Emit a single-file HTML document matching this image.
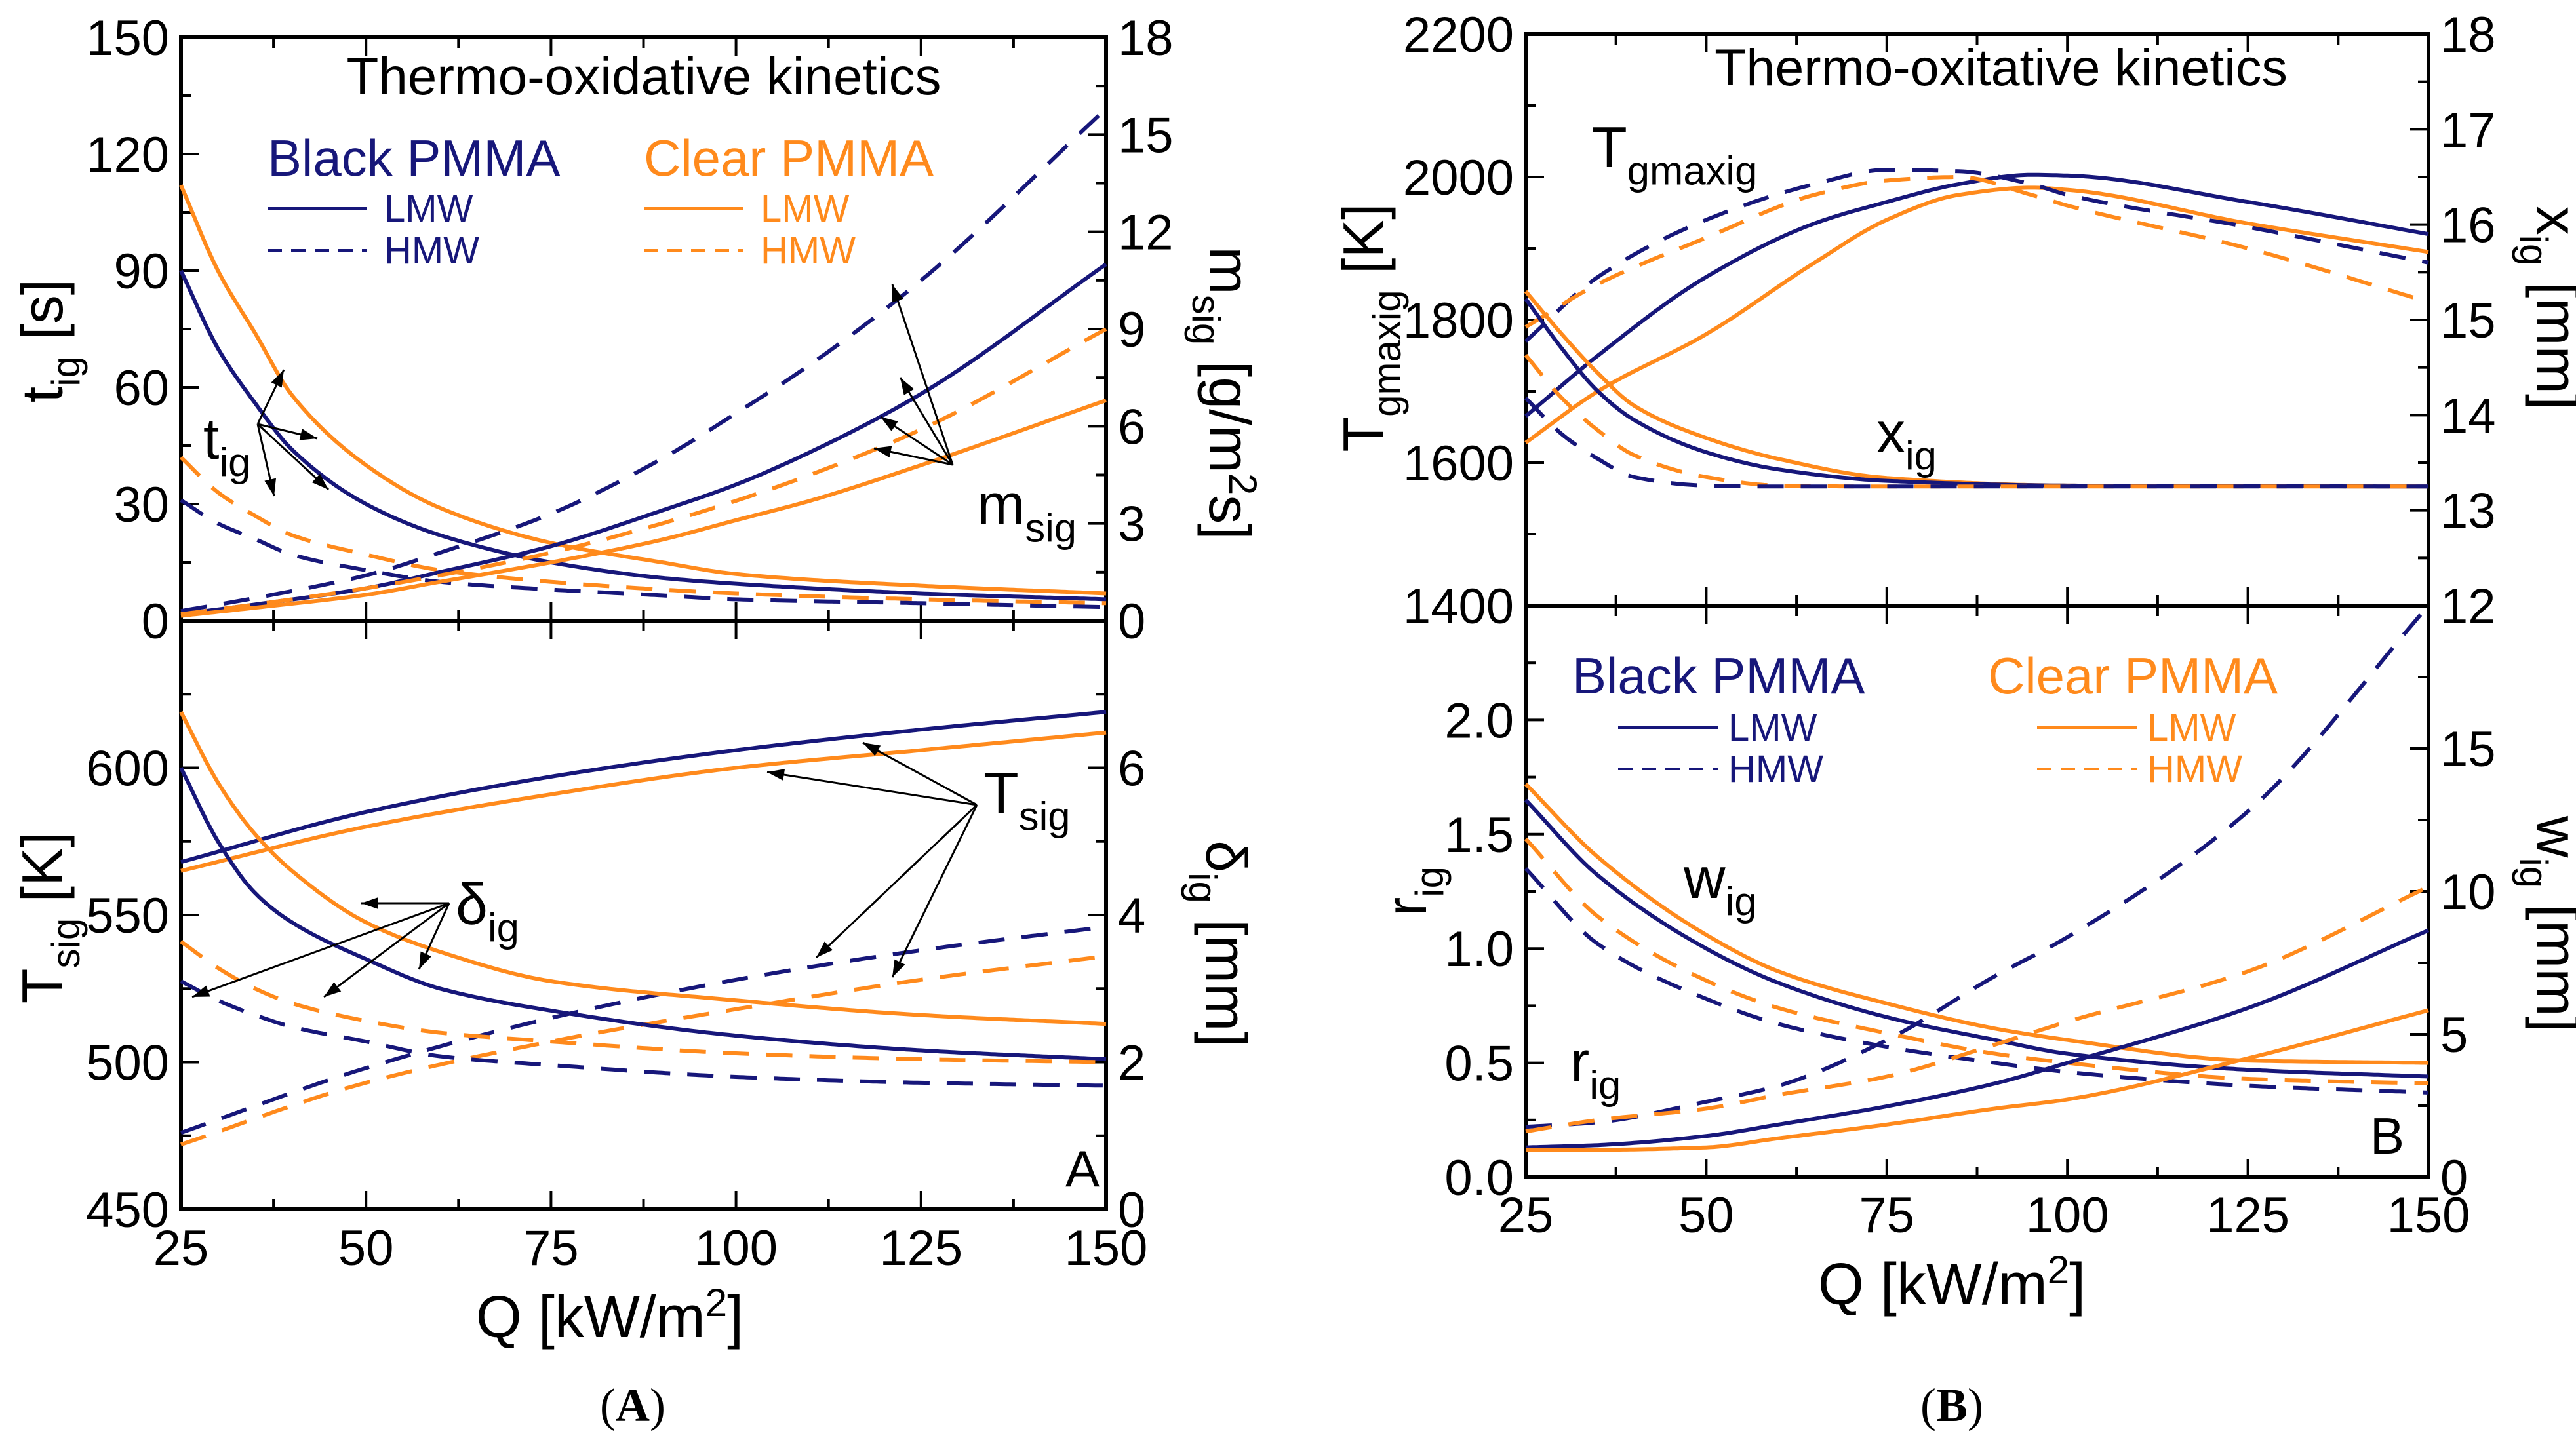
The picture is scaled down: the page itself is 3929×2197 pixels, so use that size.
<!DOCTYPE html>
<html><head><meta charset="utf-8"><style>
html,body{margin:0;padding:0;background:#fff;}
svg{display:block;font-family:"Liberation Sans",Arial,sans-serif;}
</style></head><body>
<svg id="fig" width="3929" height="2197" viewBox="0 0 3929 2197" xmlns="http://www.w3.org/2000/svg">
<g id="root"></g>
</svg>
<script>
// ---------- data ----------
const qT = [25,30,35,40,50,60,75,90,100,125,150];
const tigClearLMW = [112,90,74,58,40,29,20,15,12,9,7];
const tigBlackLMW = [90,70,56,44,30,22,15,11,9.5,7,5.5];
const tigClearHMW = [42,33,27,22,17,13,10,8,7,5.5,4.5];
const tigBlackHMW = [31,25,21,17,13,10,8,6.5,5.5,4.5,3.5];

const qM = [25,35,50,60,75,90,100,110,125,150];
const msigBlackHMW = [0.3,0.7,1.4,2.1,3.3,5.0,6.4,7.9,10.5,15.8];
const msigBlackLMW = [0.2,0.5,1.0,1.5,2.3,3.4,4.2,5.2,7.0,11.0];
const msigClearHMW = [0.2,0.5,1.0,1.4,2.1,3.0,3.7,4.5,5.9,9.0];
const msigClearLMW = [0.15,0.4,0.8,1.2,1.8,2.5,3.1,3.7,4.8,6.8];

const qS = [25,50,75,100,125,150];
const tsigBlackLMW = [568,585,597,606,613,619];
const tsigClearLMW = [565,580,591,600,606,612];
const tsigBlackHMW = [476,498,515,528,538,546];
const tsigClearHMW = [472,493,507,518,528,536];

const qD = [25,30,35,40,50,60,75,100,125,150];
const dBlackLMW = [6.0,5.0,4.3,3.9,3.4,3.0,2.7,2.36,2.16,2.04];
const dClearLMW = [6.76,5.8,5.1,4.6,3.9,3.5,3.1,2.84,2.64,2.52];
const dBlackHMW = [3.1,2.84,2.64,2.48,2.28,2.08,1.96,1.8,1.72,1.68];
const dClearHMW = [3.64,3.28,3.0,2.8,2.56,2.4,2.28,2.12,2.04,2.0];

const qG = [25,35,50,65,75,85,95,100,125,150];
const tgBlackLMW = [1665,1750,1860,1935,1965,1990,2003,2002,1965,1920];
const tgClearLMW = [1628,1700,1780,1880,1940,1975,1985,1982,1935,1895];
const tgBlackHMW = [1770,1860,1940,1990,2010,2008,1990,1975,1930,1880];
const tgClearHMW = [1790,1850,1915,1975,1995,2000,1975,1960,1900,1825];

const qX = [25,30,35,40,50,60,75,100,150];
const xBlackLMW = [15.22,14.7,14.25,13.95,13.61,13.43,13.31,13.26,13.25];
const xClearLMW = [15.3,14.85,14.44,14.1,13.76,13.54,13.34,13.26,13.25];
const xBlackHMW = [14.18,13.8,13.54,13.35,13.26,13.25,13.25,13.25,13.25];
const xClearHMW = [14.63,14.18,13.84,13.58,13.35,13.26,13.25,13.25,13.25];

const qW = [25,35,50,60,75,90,100,125,150];
const wBlackLMW = [13.2,10.56,8.0,6.8,5.6,4.8,4.32,3.76,3.52];
const wClearLMW = [13.76,11.2,8.48,7.2,6.08,5.2,4.8,4.08,4.0];
const wBlackHMW = [10.8,8.16,6.24,5.36,4.56,4.0,3.68,3.2,2.96];
const wClearHMW = [11.84,9.12,6.88,5.92,5.04,4.32,4.0,3.44,3.28];

const qR = [25,35,50,60,75,90,100,125,150];
const rBlackHMW = [0.22,0.24,0.33,0.4,0.6,0.88,1.05,1.6,2.5];
const rBlackLMW = [0.13,0.14,0.18,0.23,0.31,0.41,0.5,0.74,1.08];
const rClearHMW = [0.2,0.25,0.3,0.36,0.44,0.58,0.68,0.9,1.27];
const rClearLMW = [0.12,0.12,0.13,0.17,0.23,0.3,0.34,0.52,0.73];

const xTicks = [25,50,75,100,125,150];
const tTicks = [0,30,60,90,120,150];
const mTicks = [0,3,6,9,12,15,18];
const TsTicks = [450,500,550,600];
const dTicks = [0,2,4,6];
const TgTicks = [1400,1600,1800,2000,2200];
const xgTicks = [12,13,14,15,16,17,18];
const rTicks = ["0.0","0.5","1.0","1.5","2.0"];
const wTicks = [0,5,10,15];

// ---------- helpers ----------
const NS="http://www.w3.org/2000/svg";
const root=document.getElementById('root');
const NAVY="#17177a", ORANGE="#ff8a1c";
function mk(tag,attrs,parent){const e=document.createElementNS(NS,tag);for(const k in attrs)e.setAttribute(k,attrs[k]);(parent||root).appendChild(e);return e;}
function lin(d0,d1,p0,p1){return v=>p0+(v-d0)*(p1-p0)/(d1-d0);}
// monotone cubic (Fritsch-Carlson) interpolation in data space, sampled densely
function monotone(xs,ys){
  const n=xs.length,d=[],m=new Array(n);
  for(let i=0;i<n-1;i++)d.push((ys[i+1]-ys[i])/(xs[i+1]-xs[i]));
  m[0]=d[0];m[n-1]=d[n-2];
  for(let i=1;i<n-1;i++){ if(d[i-1]*d[i]<=0)m[i]=0; else { const h0=xs[i]-xs[i-1],h1=xs[i+1]-xs[i]; const w1=2*h1+h0,w2=h1+2*h0; m[i]=(w1+w2)/(w1/d[i-1]+w2/d[i]); } }
  return x=>{let i=0;while(i<n-2&&x>xs[i+1])i++;const h=xs[i+1]-xs[i],t=(x-xs[i])/h,t2=t*t,t3=t2*t;
    return (2*t3-3*t2+1)*ys[i]+(t3-2*t2+t)*h*m[i]+(-2*t3+3*t2)*ys[i+1]+(t3-t2)*h*m[i+1];};
}
function series(xs,ys,sx,sy,color,dashed,name){
  const f=monotone(xs,ys);let d="";
  const x0=xs[0],x1=xs[xs.length-1],N=250;
  for(let k=0;k<=N;k++){const x=x0+(x1-x0)*k/N;d+=(k?"L":"M")+sx(x).toFixed(1)+","+sy(f(x)).toFixed(1);}
  const p=mk('path',{d:d,fill:'none',stroke:color,'stroke-width':6,'stroke-linejoin':'round','stroke-dasharray':dashed?'40 26':'none'});
  
  
}
function txt(x,y,s,opt){const t=mk('text',Object.assign({x:x,y:y,'font-size':76,fill:'#000'},opt||{}));t.textContent=s;return t;}
function sub(x,y,main,subs,rest,opt,size,name){
  const t=mk('text',Object.assign({x:x,y:y,'font-size':size,fill:'#000'},opt||{}));
  
  const a=mk('tspan',{},t);a.textContent=main;
  const b=mk('tspan',{dy:size*0.3,'font-size':size*0.7},t);b.textContent=subs;
  if(rest){const c=mk('tspan',{dy:-size*0.3},t);c.textContent=rest;}
  return t;
}
function arrow(x1,y1,x2,y2,name){
  const g=mk('g',{});
  mk('line',{x1:x1,y1:y1,x2:x2,y2:y2,stroke:'#000','stroke-width':3},g);
  const a=Math.atan2(y2-y1,x2-x1),L=26,W=9;
  const bx=x2-L*Math.cos(a),by=y2-L*Math.sin(a);
  mk('polygon',{points:`${x2},${y2} ${bx-W*Math.sin(a)},${by+W*Math.cos(a)} ${bx+W*Math.sin(a)},${by-W*Math.cos(a)}`,fill:'#000'},g);
}
function frame(L,R,T,B,name){const r=mk('rect',{x:L,y:T,width:R-L,height:B-T,fill:'none',stroke:'#000','stroke-width':6});}
function xAxis(sx,T,B,ticks,labelY,showLabels){
  for(let v=25;v<=150;v+=12.5){const major=(v%25===0);const x=sx(v);
    mk('line',{x1:x,y1:B,x2:x,y2:B-(major?28:16),stroke:'#000','stroke-width':4});
    mk('line',{x1:x,y1:T,x2:x,y2:T+(major?28:16),stroke:'#000','stroke-width':4});}
  if(showLabels) ticks.forEach(v=>{const t=txt(sx(v),labelY,String(v),{'text-anchor':'middle'});});
}
function yTicks(sy,ticks,minorStep,d0,d1,L,R,side,labels){
  for(let v=d0;v<=d1+1e-9;v+=minorStep){const y=sy(v);const major=ticks.some(t=>Math.abs(parseFloat(t)-v)<1e-6);
    if(side==='left') mk('line',{x1:L,y1:y,x2:L+(major?28:16),y2:y,stroke:'#000','stroke-width':4});
    else mk('line',{x1:R,y1:y,x2:R-(major?28:16),y2:y,stroke:'#000','stroke-width':4});}
  if(labels) ticks.forEach(v=>{const y=sy(parseFloat(v))+27;
    const t=side==='left'?txt(L-18,y,String(v),{'text-anchor':'end'}):txt(R+18,y,String(v),{'text-anchor':'start'});
    });
}

// ---------- Panel A ----------
const AL=276,AR=1687,AT=57,AM=947,AB=1845;
const axA=lin(25,150,AL,AR);
const syT=lin(0,150,AM,AT), syM=lin(0,18,AM,AT);
const syTs=lin(450,650,AB,AM), syD=lin(0,8,AB,AM);
frame(AL,AR,AT,AM,'panel-a-top-frame');frame(AL,AR,AM,AB,'panel-a-bottom-frame');
xAxis(axA,AT,AM,xTicks,0,false);xAxis(axA,AM,AB,xTicks,1930,true);
yTicks(syT,tTicks,15,0,150,AL,AR,'left',true);
yTicks(syM,mTicks,1.5,0,18,AL,AR,'right',true);
yTicks(syTs,TsTicks,25,450,650,AL,AR,'left',true);
yTicks(syD,dTicks,1,0,8,AL,AR,'right',false);
dTicks.slice(1).forEach(v=>{const t=txt(AR+18,syD(v)+27,String(v));});
{const t=txt(AR+18,AB+27,'0');}

series(qT,tigClearLMW,axA,syT,ORANGE,false,'tig-clear-lmw');
series(qT,tigBlackLMW,axA,syT,NAVY,false,'tig-black-lmw');
series(qT,tigClearHMW,axA,syT,ORANGE,true,'tig-clear-hmw');
series(qT,tigBlackHMW,axA,syT,NAVY,true,'tig-black-hmw');
series(qM,msigBlackHMW,axA,syM,NAVY,true,'msig-black-hmw');
series(qM,msigBlackLMW,axA,syM,NAVY,false,'msig-black-lmw');
series(qM,msigClearHMW,axA,syM,ORANGE,true,'msig-clear-hmw');
series(qM,msigClearLMW,axA,syM,ORANGE,false,'msig-clear-lmw');
series(qS,tsigBlackLMW,axA,syTs,NAVY,false,'tsig-black-lmw');
series(qS,tsigClearLMW,axA,syTs,ORANGE,false,'tsig-clear-lmw');
series(qS,tsigBlackHMW,axA,syTs,NAVY,true,'tsig-black-hmw');
series(qS,tsigClearHMW,axA,syTs,ORANGE,true,'tsig-clear-hmw');
series(qD,dBlackLMW,axA,syD,NAVY,false,'delta-black-lmw');
series(qD,dClearLMW,axA,syD,ORANGE,false,'delta-clear-lmw');
series(qD,dBlackHMW,axA,syD,NAVY,true,'delta-black-hmw');
series(qD,dClearHMW,axA,syD,ORANGE,true,'delta-clear-hmw');

// legend A
{let t=txt(982,144,'Thermo-oxidative kinetics',{'text-anchor':'middle','font-size':80});
t=txt(408,268,'Black PMMA',{'font-size':78,fill:NAVY});
t=txt(982,268,'Clear PMMA',{'font-size':78,fill:ORANGE});
[[408,NAVY],[982,ORANGE]].forEach(([x,c])=>{
 const g1=mk('line',{x1:x,y1:318,x2:x+152,y2:318,stroke:c,'stroke-width':4});
 const g2=mk('line',{x1:x,y1:382,x2:x+152,y2:382,stroke:c,'stroke-width':4,'stroke-dasharray':'22 14'});
 let a=txt(x+178,338,'LMW',{'font-size':58,fill:c});
 a=txt(x+178,402,'HMW',{'font-size':58,fill:c});});
t=txt(1625,1810,'A',{'font-size':78});}
sub(310,700,'t','ig','',{},88,'tig-label');
sub(1490,800,'m','sig','',{},88,'msig-label');
sub(1500,1240,'T','sig','',{},88,'tsig-label');
sub(695,1410,'δ','ig','',{},88,'delta-label');
arrow(393,647,433,564,'arrow-tig-1');arrow(393,647,484,669,'arrow-tig-2');arrow(393,647,418,757,'arrow-tig-3');arrow(393,647,501,747,'arrow-tig-4');
arrow(1453,709,1361,434,'arrow-msig-1');arrow(1453,709,1373,576,'arrow-msig-2');arrow(1453,709,1343,636,'arrow-msig-3');arrow(1453,709,1333,684,'arrow-msig-4');
arrow(1490,1228,1316,1133,'arrow-tsig-1');arrow(1490,1228,1170,1178,'arrow-tsig-2');arrow(1490,1228,1245,1461,'arrow-tsig-3');arrow(1490,1228,1361,1491,'arrow-tsig-4');
arrow(685,1378,551,1378,'arrow-delta-1');arrow(685,1378,293,1521,'arrow-delta-2');arrow(685,1378,494,1521,'arrow-delta-3');arrow(685,1378,639,1479,'arrow-delta-4');

// axis titles A
{const g=mk('g',{transform:'translate(95,520) rotate(-90)'});
 const t=mk('text',{x:0,y:0,'font-size':88,'text-anchor':'middle'},g);const a=mk('tspan',{},t);a.textContent='t';const b=mk('tspan',{dy:26,'font-size':60},t);b.textContent='ig';const c=mk('tspan',{dy:-26},t);c.textContent=' [s]';}
{const g=mk('g',{transform:'translate(1845,600) rotate(90)'});
 const t=mk('text',{x:0,y:0,'font-size':88,'text-anchor':'middle'},g);const a=mk('tspan',{},t);a.textContent='m';const b=mk('tspan',{dy:26,'font-size':60},t);b.textContent='sig';const c=mk('tspan',{dy:-26},t);c.textContent=' [g/m';const d=mk('tspan',{dy:-30,'font-size':60},t);d.textContent='2';const e=mk('tspan',{dy:30},t);e.textContent='s]';}
{const g=mk('g',{transform:'translate(95,1400) rotate(-90)'});
 const t=mk('text',{x:0,y:0,'font-size':88,'text-anchor':'middle'},g);const a=mk('tspan',{},t);a.textContent='T';const b=mk('tspan',{dy:26,'font-size':60},t);b.textContent='sig';const c=mk('tspan',{dy:-26},t);c.textContent=' [K]';}
{const g=mk('g',{transform:'translate(1840,1440) rotate(90)'});
 const t=mk('text',{x:0,y:0,'font-size':88,'text-anchor':'middle'},g);const a=mk('tspan',{},t);a.textContent='δ';const b=mk('tspan',{dy:26,'font-size':60},t);b.textContent='ig';const c=mk('tspan',{dy:-26},t);c.textContent=' [mm]';}
{const t=mk('text',{x:930,y:2040,'font-size':90,'text-anchor':'middle'});
 const a=mk('tspan',{},t);a.textContent='Q [kW/m';const b=mk('tspan',{dy:-32,'font-size':60},t);b.textContent='2';const c=mk('tspan',{dy:32},t);c.textContent=']';}
{const t=mk('text',{x:965,y:2168,'font-size':72,'text-anchor':'middle','font-family':'Liberation Serif, serif'});
 const a=mk('tspan',{},t);a.textContent='(';const b=mk('tspan',{'font-weight':'bold'},t);b.textContent='A';const c=mk('tspan',{},t);c.textContent=')';}

// ---------- Panel B ----------
const BL=2327,BR=3704,BT=52,BM=924,BB=1796;
const axB=lin(25,150,BL,BR);
const syG=lin(1400,2200,BM,BT), syX=lin(12,18,BM,BT);
const syR=lin(0,2.5,BB,BM), syW=lin(0,20,BB,BM);
frame(BL,BR,BT,BM,'panel-b-top-frame');frame(BL,BR,BM,BB,'panel-b-bottom-frame');
xAxis(axB,BT,BM,xTicks,0,false);xAxis(axB,BM,BB,xTicks,1880,true);
yTicks(syG,TgTicks,100,1400,2200,BL,BR,'left',true);
yTicks(syX,xgTicks,0.5,12,18,BL,BR,'right',true);
yTicks(syR,rTicks,0.25,0,2.5,BL,BR,'left',true);
yTicks(syW,wTicks,2.5,0,20,BL,BR,'right',true);

series(qG,tgBlackLMW,axB,syG,NAVY,false,'tgmax-black-lmw');
series(qG,tgClearLMW,axB,syG,ORANGE,false,'tgmax-clear-lmw');
series(qG,tgBlackHMW,axB,syG,NAVY,true,'tgmax-black-hmw');
series(qG,tgClearHMW,axB,syG,ORANGE,true,'tgmax-clear-hmw');
series(qX,xClearLMW,axB,syX,ORANGE,false,'xig-clear-lmw');
series(qX,xBlackLMW,axB,syX,NAVY,false,'xig-black-lmw');
series(qX,xClearHMW,axB,syX,ORANGE,true,'xig-clear-hmw');
series(qX,xBlackHMW,axB,syX,NAVY,true,'xig-black-hmw');
series(qW,wClearLMW,axB,syW,ORANGE,false,'wig-clear-lmw');
series(qW,wBlackLMW,axB,syW,NAVY,false,'wig-black-lmw');
series(qW,wClearHMW,axB,syW,ORANGE,true,'wig-clear-hmw');
series(qW,wBlackHMW,axB,syW,NAVY,true,'wig-black-hmw');
series(qR,rBlackHMW,axB,syR,NAVY,true,'rig-black-hmw');
series(qR,rBlackLMW,axB,syR,NAVY,false,'rig-black-lmw');
series(qR,rClearHMW,axB,syR,ORANGE,true,'rig-clear-hmw');
series(qR,rClearLMW,axB,syR,ORANGE,false,'rig-clear-lmw');

{let t=txt(3052,130,'Thermo-oxitative kinetics',{'text-anchor':'middle','font-size':79});
t=txt(2398,1058,'Black PMMA',{'font-size':78,fill:NAVY});
t=txt(3032,1058,'Clear PMMA',{'font-size':78,fill:ORANGE});
[[2468,NAVY],[3107,ORANGE]].forEach(([x,c])=>{
 const g1=mk('line',{x1:x,y1:1110,x2:x+152,y2:1110,stroke:c,'stroke-width':4});
 const g2=mk('line',{x1:x,y1:1173,x2:x+152,y2:1173,stroke:c,'stroke-width':4,'stroke-dasharray':'22 14'});
 let a=txt(x+168,1130,'LMW',{'font-size':58,fill:c});
 a=txt(x+168,1193,'HMW',{'font-size':58,fill:c});});
t=txt(3615,1760,'B',{'font-size':78});}
sub(2428,255,'T','gmaxig','',{},88,'tgmax-label');
sub(2862,690,'x','ig','',{},88,'xig-label');
sub(2568,1370,'w','ig','',{},88,'wig-label');
sub(2395,1650,'r','ig','',{},88,'rig-label');

{const g=mk('g',{transform:'translate(2110,500) rotate(-90)'});
 const t=mk('text',{x:0,y:0,'font-size':88,'text-anchor':'middle'},g);const a=mk('tspan',{},t);a.textContent='T';const b=mk('tspan',{dy:26,'font-size':60},t);b.textContent='gmaxig';const c=mk('tspan',{dy:-26},t);c.textContent=' [K]';}
{const g=mk('g',{transform:'translate(3870,470) rotate(90)'});
 const t=mk('text',{x:0,y:0,'font-size':88,'text-anchor':'middle'},g);const a=mk('tspan',{},t);a.textContent='x';const b=mk('tspan',{dy:26,'font-size':60},t);b.textContent='ig';const c=mk('tspan',{dy:-26},t);c.textContent=' [mm]';}
{const g=mk('g',{transform:'translate(2175,1360) rotate(-90)'});
 const t=mk('text',{x:0,y:0,'font-size':88,'text-anchor':'middle'},g);const a=mk('tspan',{},t);a.textContent='r';const b=mk('tspan',{dy:26,'font-size':60},t);b.textContent='ig';}
{const g=mk('g',{transform:'translate(3870,1410) rotate(90)'});
 const t=mk('text',{x:0,y:0,'font-size':88,'text-anchor':'middle'},g);const a=mk('tspan',{},t);a.textContent='w';const b=mk('tspan',{dy:26,'font-size':60},t);b.textContent='ig';const c=mk('tspan',{dy:-26},t);c.textContent=' [mm]';}
{const t=mk('text',{x:2977,y:1990,'font-size':90,'text-anchor':'middle'});
 const a=mk('tspan',{},t);a.textContent='Q [kW/m';const b=mk('tspan',{dy:-32,'font-size':60},t);b.textContent='2';const c=mk('tspan',{dy:32},t);c.textContent=']';}
{const t=mk('text',{x:2977,y:2168,'font-size':72,'text-anchor':'middle','font-family':'Liberation Serif, serif'});
 const a=mk('tspan',{},t);a.textContent='(';const b=mk('tspan',{'font-weight':'bold'},t);b.textContent='B';const c=mk('tspan',{},t);c.textContent=')';}
</script>
</body></html>
